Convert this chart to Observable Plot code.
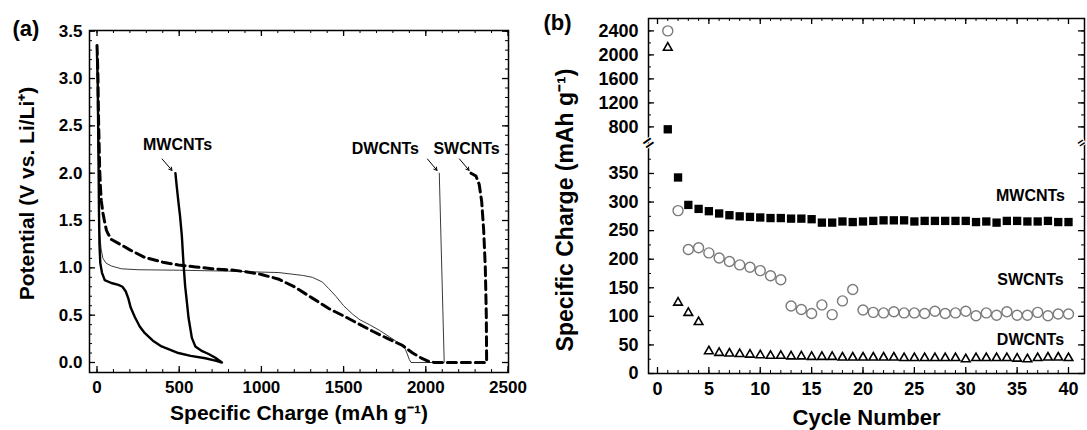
<!DOCTYPE html>
<html>
<head>
<meta charset="utf-8">
<script src="https://cdn.jsdelivr.net/npm/d3@7"></script>
<script src="https://cdn.jsdelivr.net/npm/@observablehq/plot@0.6"></script>
<style>
  body { margin: 0; background: #fff; }
  #wrap { display: flex; width: 1087px; height: 430px; overflow: hidden; }
</style>
</head>
<body>
<div id="wrap"></div>
<script>
// ---------- Panel (a) data: potential vs specific charge ----------
const mwcntCurve = [
  [0,3.25],[4,3.0],[7,2.5],[10,2.0],[12,1.6],[15,1.25],[20,1.05],[30,0.95],[47,0.87],[87,0.84],
  [130,0.82],[155,0.8],[175,0.75],[190,0.68],[205,0.58],[230,0.48],[260,0.38],[291,0.31],[340,0.23],
  [393,0.17],[450,0.13],[495,0.1],[570,0.07],[659,0.045],[720,0.02],[760,0.0],
  [720,0.05],[679,0.09],[640,0.12],[598,0.17],[577,0.26],[557,0.47],[546,0.65],[536,0.81],
  [526,1.05],[516,1.34],[505,1.55],[495,1.7],[485,1.86],[477,2.0]
];
const dwcntCurve = [
  [0,3.2],[4,2.9],[7,2.4],[10,1.9],[13,1.6],[16,1.37],[25,1.2],[36,1.1],[55,1.05],[87,1.02],
  [148,0.99],[250,0.98],[500,0.975],[800,0.965],[1106,0.95],[1250,0.92],[1310,0.9],[1371,0.85],
  [1410,0.78],[1453,0.7],[1500,0.6],[1555,0.51],[1600,0.45],[1657,0.4],[1718,0.34],[1780,0.27],
  [1840,0.2],[1870,0.16],[1885,0.1],[1900,0.03],[1910,0.0],[2112,0.0],[2082,2.0]
];
const swcntCurve = [
  [0,3.35],[3,3.2],[6,3.0],[9,2.6],[13,2.3],[16,2.06],[21,1.85],[26,1.71],[36,1.58],[47,1.48],
  [57,1.4],[67,1.36],[87,1.3],[150,1.24],[200,1.19],[291,1.11],[400,1.06],[495,1.03],[600,1.01],
  [699,0.99],[800,0.98],[902,0.96],[1000,0.93],[1106,0.88],[1200,0.8],[1310,0.68],[1410,0.57],
  [1514,0.48],[1600,0.4],[1677,0.33],[1760,0.26],[1858,0.18],[1920,0.1],[1970,0.05],[2020,0.01],
  [2050,0.0],[2370,0.0],[2368,0.5],[2362,1.0],[2352,1.4],[2340,1.7],[2325,1.88],[2305,1.97],[2275,2.0]
];
const xTicksA = [0, 500, 1000, 1500, 2000, 2500];
const yTicksA = [0, 0.5, 1.0, 1.5, 2.0, 2.5, 3.0, 3.5];
const curveLabelsA = ["MWCNTs", "DWCNTs", "SWCNTs"];

// ---------- Panel (b) data: specific charge vs cycle number ----------
const cycles = d3.range(1, 41);
const mwcntCharge = [760,343,295,288,284,280,277,275,274,273,272,272,271,271,270,264,264,266,265,266,
  267,268,268,268,266,267,267,267,267,267,265,266,264,267,267,266,266,267,265,265];
const swcntCharge = [2400,285,217,220,211,202,196,190,186,180,171,164,118,112,105,120,103,127,147,111,
  107,106,108,106,106,105,109,105,106,109,101,106,102,108,102,102,107,101,104,104];
const dwcntCharge = [2120,124,106,90,39,36,35,34,33,32,31,31,30,30,29,29,29,28,28,28,
  28,28,28,27,27,27,27,27,27,25,27,27,27,27,26,25,27,28,28,27];
const xTicksB = [0, 5, 10, 15, 20, 25, 30, 35, 40];
const yTicksLowB = [0, 50, 100, 150, 200, 250, 300, 350];
const yTicksHighB = [800, 1200, 1600, 2000, 2400];
const seriesLabelsB = ["MWCNTs", "SWCNTs", "DWCNTs"];

const FONT = '"Liberation Sans", Arial, Helvetica, sans-serif';
const baseStyle = {fontFamily: FONT, fontWeight: "bold", fontSize: "17px", color: "black", background: "white", overflow: "visible"};

// ---------- Panel (a) ----------
const A = {w: 540, h: 430, ml: 89, mr: 32, mt: 30, mb: 58};
const pwA = A.w - A.ml - A.mr, phA = A.h - A.mt - A.mb;
const xMinorA = d3.range(0, 2501, 100);
const yMinorA = d3.range(0, 36).map(i => i / 10);
const toPts = arr => arr.map(([x, y]) => ({x, y}));

const annA = [
  {t: curveLabelsA[0], x: 490, y: 2.30, ax1: 396, ay1: 2.15, ax2: 456, ay2: 2.03},
  {t: curveLabelsA[1], x: 1754, y: 2.26, ax1: 2010, ay1: 2.15, ax2: 2068, ay2: 2.03},
  {t: curveLabelsA[2], x: 2248, y: 2.26, ax1: 2205, ay1: 2.15, ax2: 2263, ay2: 2.03}
];

const plotA = Plot.plot({
  width: A.w, height: A.h,
  marginLeft: A.ml, marginRight: A.mr, marginTop: A.mt, marginBottom: A.mb,
  x: {domain: [0, 2500], range: [96.5, 507.5]},
  y: {domain: [0, 3.5], range: [362, 30.7]},
  style: baseStyle,
  marks: [
    Plot.line(toPts(dwcntCurve), {x: "x", y: "y", stroke: "#3a3a3a", strokeWidth: 1}),
    Plot.line(toPts(swcntCurve), {x: "x", y: "y", stroke: "black", strokeWidth: 3, strokeDasharray: "9,5"}),
    Plot.line(toPts(mwcntCurve), {x: "x", y: "y", stroke: "black", strokeWidth: 2.4}),
    // inward ticks
    Plot.tickX(xMinorA, {x: d => d, insetTop: phA - 3, strokeWidth: 1}),
    Plot.tickX(xTicksA, {x: d => d, insetTop: phA - 6, strokeWidth: 1.3}),
    Plot.tickX(xMinorA, {x: d => d, insetBottom: phA - 3, strokeWidth: 1}),
    Plot.tickX(xTicksA, {x: d => d, insetBottom: phA - 6, strokeWidth: 1.3}),
    Plot.tickY(yMinorA, {y: d => d, insetRight: pwA - 3, strokeWidth: 1}),
    Plot.tickY(yTicksA, {y: d => d, insetRight: pwA - 6, strokeWidth: 1.3}),
    Plot.tickY(yMinorA, {y: d => d, insetLeft: pwA - 3, strokeWidth: 1}),
    Plot.tickY(yTicksA, {y: d => d, insetLeft: pwA - 6, strokeWidth: 1.3}),
    Plot.frame({stroke: "black", strokeWidth: 1.5}),
    Plot.axisX({ticks: xTicksA, tickSize: 0, tickPadding: 8, label: null, fontSize: 17, fontWeight: "bold", tickFormat: d => String(d)}),
    Plot.axisY({ticks: yTicksA, tickSize: 0, tickPadding: 7, label: null, fontSize: 17, fontWeight: "bold", tickFormat: d3.format(".1f")}),
    Plot.text(annA, {x: "x", y: "y", text: "t", fontSize: 16, fontWeight: "bold"}),
    Plot.arrow(annA, {x1: "ax1", y1: "ay1", x2: "ax2", y2: "ay2", stroke: "black", strokeWidth: 1, headLength: 5}),
    Plot.text(["(a)"], {frameAnchor: "top-left", dx: -77, dy: -2, textAnchor: "start", lineAnchor: "middle", fontSize: 22, fontWeight: "bold"}),
    Plot.text(["Potential (V vs. Li/Li\u207A)"], {frameAnchor: "left", textAnchor: "middle", rotate: -90, dx: -62, dy: -8, fontSize: 21, fontWeight: "bold"}),
    Plot.text(["Specific Charge (mAh g\u207B\u00B9)"], {frameAnchor: "bottom", textAnchor: "middle", dy: 41, lineAnchor: "middle", fontSize: 21, fontWeight: "bold"})
  ]
});

// ---------- Panel (b) ----------
const B = {w: 547, h: 430, ml: 108, mr: 3, mt: 18, mb: 57};
const pwB = B.w - B.ml - B.mr, phB = B.h - B.mt - B.mb;
const xMinorB = d3.range(0, 41, 1);
const yMinorLowB = d3.range(0, 401, 25);
const yMinorHighB = [800, 1000, 1200, 1400, 1600, 1800, 2000, 2200, 2400];
const rowsB = (vals) => cycles.map((c, i) => ({c, v: vals[i]}));

const annB = [
  {t: seriesLabelsB[0], x: 36.3, y: 311},
  {t: seriesLabelsB[1], x: 36.3, y: 163},
  {t: seriesLabelsB[2], x: 36.3, y: 58}
];

const plotB = Plot.plot({
  width: B.w, height: B.h,
  marginLeft: B.ml, marginRight: B.mr, marginTop: B.mt, marginBottom: B.mb,
  x: {domain: [0, 40], range: [117, 528]},
  y: {type: "linear", domain: [0, 400, 560, 2600], range: [373, 144.4, 140.8, 18.4]},
  style: baseStyle,
  marks: [
    Plot.tickX(xMinorB, {x: d => d, insetTop: phB - 3, strokeWidth: 1}),
    Plot.tickX(xTicksB, {x: d => d, insetTop: phB - 6, strokeWidth: 1.3}),
    Plot.tickX(xMinorB, {x: d => d, insetBottom: phB - 3, strokeWidth: 1}),
    Plot.tickX(xTicksB, {x: d => d, insetBottom: phB - 6, strokeWidth: 1.3}),
    Plot.tickY(yMinorLowB.concat(yMinorHighB), {y: d => d, insetRight: pwB - 3, strokeWidth: 1}),
    Plot.tickY(yTicksLowB.concat(yTicksHighB), {y: d => d, insetRight: pwB - 6, strokeWidth: 1.3}),
    Plot.tickY(yMinorLowB.concat(yMinorHighB), {y: d => d, insetLeft: pwB - 3, strokeWidth: 1}),
    Plot.tickY(yTicksLowB.concat(yTicksHighB), {y: d => d, insetLeft: pwB - 6, strokeWidth: 1.3}),
    Plot.frame({stroke: "black", strokeWidth: 1.5}),
    Plot.text(["="], {frameAnchor: "left", textAnchor: "middle", y: 480, rotate: -35, fontSize: 18, fill: "black", stroke: "white", strokeWidth: 2, paintOrder: "stroke"}),
    Plot.text(["="], {frameAnchor: "right", textAnchor: "middle", y: 480, dx: -3, rotate: -35, fontSize: 12, fill: "black", stroke: "white", strokeWidth: 2, paintOrder: "stroke"}),
    Plot.dot(rowsB(mwcntCharge), {x: "c", y: "v", symbol: "square", fill: "black", r: 4.7}),
    Plot.dot(rowsB(swcntCharge), {x: "c", y: "v", symbol: "circle", fill: "none", stroke: "#7a7a7a", strokeWidth: 1.4, r: 5}),
    Plot.dot(rowsB(dwcntCharge), {x: "c", y: "v", symbol: "triangle", fill: "none", stroke: "black", strokeWidth: 1.6, r: 3.2}),
    Plot.axisX({ticks: xTicksB, tickSize: 0, tickPadding: 9, label: null, fontSize: 18, fontWeight: "bold", tickFormat: d => String(d)}),
    Plot.axisY({ticks: yTicksLowB.concat(yTicksHighB), tickSize: 0, tickPadding: 10, label: null, fontSize: 18, fontWeight: "bold", tickFormat: d => String(d)}),
    Plot.text(annB, {x: "x", y: "y", text: "t", fontSize: 16, fontWeight: "bold"}),
    Plot.text(["(b)"], {frameAnchor: "top-left", dx: -105, dy: 4, textAnchor: "start", lineAnchor: "middle", fontSize: 22, fontWeight: "bold"}),
    Plot.text(["Specific Charge (mAh g\u207B\u00B9)"], {frameAnchor: "left", textAnchor: "middle", rotate: -90, dx: -83, dy: 14, fontSize: 23, fontWeight: "bold"}),
    Plot.text(["Cycle Number"], {frameAnchor: "bottom", textAnchor: "middle", dy: 44, lineAnchor: "middle", fontSize: 22, fontWeight: "bold"})
  ]
});

const wrap = document.getElementById("wrap");
wrap.appendChild(plotA);
wrap.appendChild(plotB);
</script>
</body>
</html>
